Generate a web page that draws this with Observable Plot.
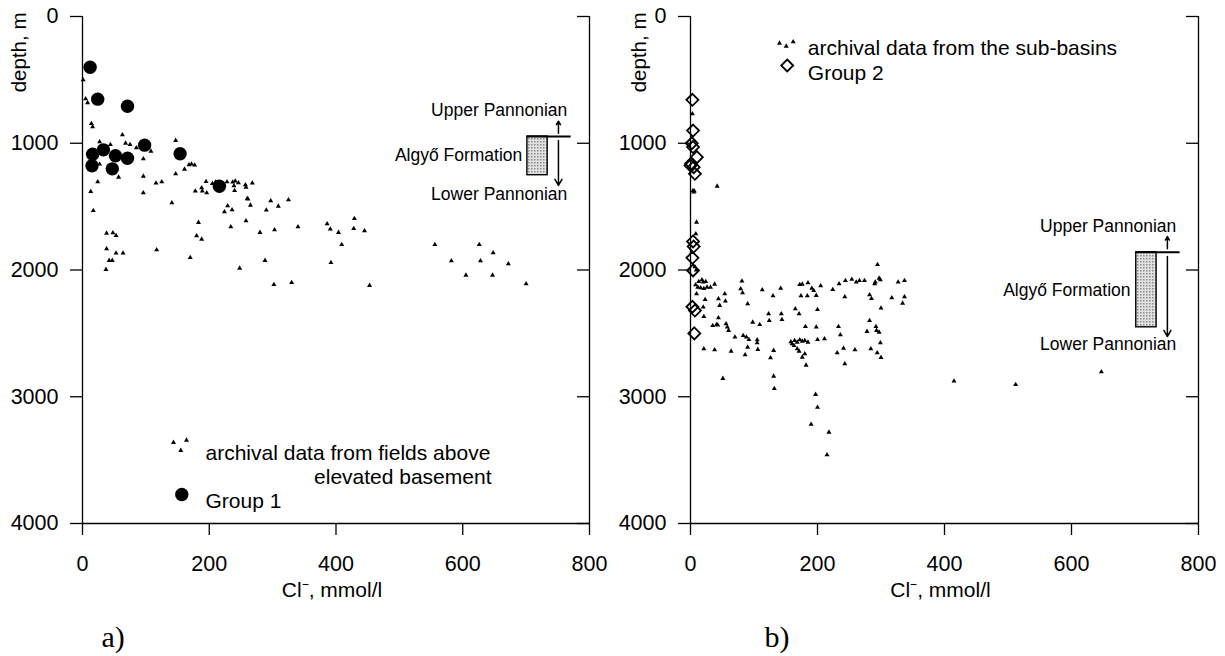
<!DOCTYPE html>
<html><head><meta charset="utf-8">
<script src="https://cdn.jsdelivr.net/npm/d3@7"></script>
<script src="https://cdn.jsdelivr.net/npm/@observablehq/plot@0.6"></script>
<style>
body{margin:0;background:#fff;}
#wrap{display:flex;width:1225px;height:656px;}
#wrap svg{display:block;}
</style></head><body><div id="wrap"></div>
<script>
// ---------- data ----------
const xTicks = [0, 200, 400, 600, 800];
const yTicks = [0, 1000, 2000, 3000, 4000];
const xLabel = "Cl\u207B, mmol/l";
const yLabel = "depth, m";

// panel a: archival data from fields above elevated basement  [Cl, depth]
const archivalA = [
 [1,500],[5,650],[8,680],[14,845],[16,870],[63,934],[68,1000],[75,1010],[27,989],[44,1010],[85,1036],[108,1063],
 [96,1123],[147,978],[27,1165],[57,1268],[24,1305],[13,1381],[96,1260],[96,1391],[116,1315],[125,1305],[147,1241],
 [161,1205],[168,1170],[172,1165],[177,1173],[178,1378],[188,1352],[189,1378],[196,1391],[195,1302],[205,1318],
 [210,1307],[228,1305],[237,1307],[241,1299],[246,1312],[239,1336],[240,1373],[257,1328],[258,1347],[268,1315],
 [260,1436],[297,1455],[325,1446],[17,1531],[38,1710],[48,1707],[53,1728],[38,1833],[53,1867],[64,1867],[42,1925],
 [47,1925],[37,1996],[141,1470],[117,1841],[183,1625],[180,1730],[188,1757],[170,1902],[229,1494],[236,1525],
 [224,1541],[261,1441],[265,1489],[234,1660],[258,1612],[248,1986],[280,1704],[288,1925],[290,1528],[309,1497],
 [303,1683],[302,2115],[330,2099],[340,1660],[386,1636],[391,1678],[404,1704],[409,1799],[429,1594],[428,1673],
 [445,1691],[392,1941],[453,2122],[556,1799],[582,1928],[626,1799],[628,1928],[648,1865],[672,1951],[605,2041],
 [647,2041],[700,2109]
];
// panel a: Group 1
const group1 = [
 [12,400],[24,652],[71,708],[98,1015],[16,1086],[33,1052],[52,1099],[71,1118],[15,1178],[47,1202],[154,1083],[216,1339]
];
// panel b: archival data from the sub-basins
const archivalB = [
 [3,768],[6,1378],[42,1339],[4,1373],[5,1386],[9.5,1623],[8.4,1715],[7,1975],[9,2000],
 [294.5,1957],[297,2065],[299,2078],[290,2109],[291,2096],[327,2096],[337,2083],[334,2262],[337,2212],[317,2220],
 [300,2301],[282,2196],[285,2225],
 [8,2117],[13,2091],[18,2078],[20,2096],[24,2091],[11.5,2136],[16,2141],[21,2146],[26,2136],[31.5,2136],[38,2112],
 [9.5,2188],[23,2233],[20,2293],[44,2228],[46,2280],[54,2188],[55,2246],[21,2367],[44,2377],
 [81,2088],[79,2148],[82,2180],[90,2267],[113,2157],[130,2204],[142,2144],[123,2346],[143,2346],[165,2307],
 [171,2346],[200,2312],[172,2115],[176,2112],[185,2101],[191,2144],[194,2162],[198,2201],[205,2125],[174,2204],
 [184,2204],[224,2154],[234,2109],[244,2083],[254,2073],[261,2096],[266,2083],[274,2083],[243,2212],
 [124,2399],[144,2391],[35,2438],[41,2430],[43,2435],[56,2425],[58,2451],[60,2477],[21,2622],[38,2630],[64,2641],
 [70,2530],[83,2517],[88,2530],[92,2549],[98,2412],[109,2430],[105,2551],[105,2575],[90,2609],[106,2627],[86,2669],
 [131,2635],[126,2693],[131,2838],[132,2935],[51,2856],
 [158,2567],[160,2583],[164,2557],[168,2570],[172,2551],[176,2562],[180,2557],[185,2570],[163,2596],[168,2622],
 [171,2641],[176,2688],[180,2661],[182,2751],[200,2549],[211,2543],[198,2451],[181,2446],
 [197,2982],[200,3083],[190,3217],[218,3280],[215,3458],
 [233,2446],[236,2511],[231,2653],[241,2617],[243,2740],[259,2630],
 [282,2399],[292,2446],[293,2477],[297,2491],[278,2485],[299,2575],[284,2622],[294,2653],[300,2690],
 [415,2877],[512,2904],[647,2803]
];
// panel b: Group 2
const group2 = [
 [3,657],[4,900],[2,1000],[4,1030],[10,1110],[1,1160],[0,1176],[5,1189],[7,1241],[4,1775],[5,1815],[3,1904],
 [4,2004],[3,2290],[7,2320],[6,2500]
];
// Algyő Formation depth range: [top, bottom]
const algyoA = [947, 1252];
const algyoB = [1860, 2452];
// arrows towards Upper / Lower Pannonian: [from depth, to depth]
const arrowsA = [[921, 826], [978, 1333]];
const arrowsB = [[1833, 1736], [1894, 2525]];
const formationLabels = ["Upper Pannonian", "Algyő Formation", "Lower Pannonian"];
const legendA = ["archival data from fields above", "elevated basement", "Group 1"];
const legendB = ["archival data from the sub-basins", "Group 2"];
const panelLetters = ["a)", "b)"];

// ---------- drawing ----------
const FONT = "'Liberation Sans', Arial, sans-serif";

function stipple(svg, id) {
  const ns = "http://www.w3.org/2000/svg";
  const defs = document.createElementNS(ns, "defs");
  const pat = document.createElementNS(ns, "pattern");
  pat.setAttribute("id", id); pat.setAttribute("width", "3"); pat.setAttribute("height", "3");
  pat.setAttribute("patternUnits", "userSpaceOnUse");
  const bg = document.createElementNS(ns, "rect");
  bg.setAttribute("width", "3"); bg.setAttribute("height", "3"); bg.setAttribute("fill", "#e2e2e2");
  const dot = document.createElementNS(ns, "rect");
  dot.setAttribute("width", "1.5"); dot.setAttribute("height", "1.5"); dot.setAttribute("fill", "#8a8a8a");
  pat.appendChild(bg); pat.appendChild(dot); defs.appendChild(pat);
  svg.insertBefore(defs, svg.firstChild);
}

function panel(cfg) {
  const fw = cfg.width - cfg.marginLeft - cfg.marginRight;
  const ax = {stroke: "#000", strokeWidth: 1.3};
  const f = cfg.formation;
  const form = [{top: f[0], bottom: f[1]}];
  const marks = [
    Plot.ruleX([0], ax), Plot.ruleX([800], ax), Plot.ruleY([4000], ax),
    Plot.axisY(yTicks, {anchor: "left", tickSize: 12, tickPadding: 12, fontSize: 21.5, tickFormat: d => String(d), label: null, strokeWidth: 1.3}),
    Plot.axisX(xTicks, {anchor: "bottom", tickSize: 12, tickPadding: 20, fontSize: 21.5, tickFormat: d => String(d), label: null, strokeWidth: 1.3}),
    Plot.tickY(yTicks, {y: d => d, insetLeft: fw - 12, ...ax}),
    Plot.text([yLabel], {frameAnchor: "top-left", text: d => d, rotate: -90, textAnchor: "end", dx: cfg.yLabelDx, dy: -4, fontSize: 20.5}),
    Plot.text([xLabel], {frameAnchor: "bottom", text: d => d, dx: -4, dy: 73, fontSize: 21}),
    Plot.text([cfg.letter], {frameAnchor: "bottom-left", text: d => d, textAnchor: "start", dx: cfg.letterDx, dy: 123, fontSize: 30, fontFamily: "'Liberation Serif', 'Times New Roman', serif"}),
    // formation annotation
    Plot.rect(form, {x1: 702, x2: 734, y1: "top", y2: "bottom", fill: `url(#${cfg.patId})`, stroke: "#000", strokeWidth: 1.4}),
    Plot.ruleY(form, {y: "top", x1: 702, x2: 771, stroke: "#000", strokeWidth: 2}),
    Plot.arrow(cfg.arrows, {x: 751, y1: d => d[0], y2: d => d[1], headLength: 7, headAngle: 60, strokeWidth: 1.5, stroke: "#000"}),
    Plot.text(formationLabels, {x: cfg.labelX, y: cfg.labelY, text: d => d, textAnchor: "end", fontSize: 17.5}),
    // data
    Plot.dot(cfg.archival, {x: d => d[0], y: d => d[1], symbol: "triangle", r: 1.85, fill: "#000"}),
    cfg.groupMark,
    ...cfg.legendMarks
  ];
  const svg = Plot.plot({
    width: cfg.width, height: 656,
    marginTop: 16, marginBottom: 133, marginLeft: cfg.marginLeft, marginRight: cfg.marginRight,
    x: {domain: [0, 800]},
    y: {domain: [0, 4000], reverse: true},
    style: {fontFamily: FONT, fontSize: "21px", color: "#000", background: "#fff", overflow: "visible"},
    marks
  });
  stipple(svg, cfg.patId);
  return svg;
}

const triOffsetsA = [[91, 426], [98.3, 434], [104, 423.7]];
const triOffsetsB = [[89, 26.7], [95.7, 29.7], [102.7, 25.3]];
const legTri = (offs) => offs.map(([dx, dy]) => Plot.dot([0], {frameAnchor: "top-left", dx, dy, symbol: "triangle", r: 1.85, fill: "#000"}));

const svgA = panel({
  width: 612, marginLeft: 82, marginRight: 23, letter: panelLetters[0], letterDx: 19, yLabelDx: -71,
  archival: archivalA, formation: algyoA, arrows: arrowsA, patId: "stipA",
  labelX: [765, 694, 765], labelY: [742, 1099, 1404],
  groupMark: Plot.dot(group1, {x: d => d[0], y: d => d[1], r: 6.7, fill: "#000"}),
  legendMarks: [
    ...legTri(triOffsetsA),
    Plot.dot([0], {frameAnchor: "top-left", dx: 99.3, dy: 478, r: 6.7, fill: "#000"}),
    Plot.text([legendA[0]], {frameAnchor: "top-left", text: d => d, textAnchor: "start", dx: 123, dy: 429, fontSize: 21}),
    Plot.text([legendA[1]], {frameAnchor: "top-left", text: d => d, textAnchor: "end", dx: 409, dy: 453, fontSize: 21}),
    Plot.text([legendA[2]], {frameAnchor: "top-left", text: d => d, textAnchor: "start", dx: 123, dy: 477, fontSize: 21})
  ]
});

const svgB = panel({
  width: 613, marginLeft: 78, marginRight: 27, letter: panelLetters[1], letterDx: 74, yLabelDx: -59,
  archival: archivalB, formation: algyoB, arrows: arrowsB, patId: "stipB",
  labelX: [765, 693, 765], labelY: [1655, 2162, 2590],
  groupMark: Plot.dot(group2, {x: d => d[0], y: d => d[1], symbol: "diamond2", r: 5.4, fill: "none", stroke: "#000", strokeWidth: 1.8}),
  legendMarks: [
    ...legTri(triOffsetsB),
    Plot.dot([0], {frameAnchor: "top-left", dx: 96.7, dy: 49, symbol: "diamond2", r: 5.4, fill: "none", stroke: "#000", strokeWidth: 1.8}),
    Plot.text([legendB[0]], {frameAnchor: "top-left", text: d => d, textAnchor: "start", dx: 117.3, dy: 23.3, fontSize: 21}),
    Plot.text([legendB[1]], {frameAnchor: "top-left", text: d => d, textAnchor: "start", dx: 117.3, dy: 49, fontSize: 21})
  ]
});

document.getElementById("wrap").append(svgA, svgB);
</script>
</body></html>
